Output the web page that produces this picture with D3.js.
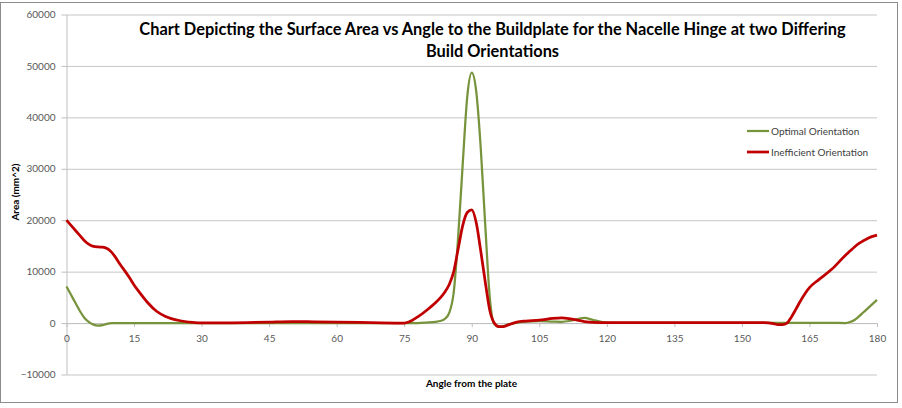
<!DOCTYPE html>
<html>
<head>
<meta charset="utf-8">
<script src="https://cdn.jsdelivr.net/npm/d3@7"></script>
<style>
  body { margin: 0; background: #fff; }
  svg { display: block; }
  .axis text { font-family: Lato, "Liberation Sans", sans-serif; font-size: 10px; fill: #595959; }
  .axis path, .axis line { stroke: #bfbfbf; }
  .grid line { stroke: #c6c6c6; }
  .grid path { display: none; }
</style>
</head>
<body>
<div id="chart"></div>
<script>
// angle from the plate (degrees)
var angles = [0,1,2,3,4,5,6,7,8,9,10,12,14,15,16,18,20,22,25,28,30,35,40,45,50,55,60,65,70,75,76,78,80,82,83,84,85,86,87,88,89,90,91,92,93,94,95,96,97,98,100,102,105,108,110,112,115,117,120,125,130,135,140,145,150,155,157,158,159,160,161,162,163,165,167,170,173,174,175,176,177,178,180];

// surface area (mm^2), optimal orientation
var optimal = [7100,5500,3900,2300,1000,200,-300,-500,-400,-150,0,0,0,0,0,0,0,0,0,0,0,0,0,0,0,0,0,0,0,0,0,0,100,250,400,800,2000,6000,17000,31000,44000,48700,45000,34000,19000,5000,-200,-700,-600,-300,100,300,400,300,250,450,1000,600,100,50,50,50,50,50,50,50,50,50,50,50,50,50,50,50,50,50,0,200,600,1300,2100,2900,4500];

// surface area (mm^2), inefficient orientation
var inefficient = [20000,19000,18000,17000,16000,15300,14900,14800,14750,14500,13800,11300,8800,7400,6200,4000,2300,1300,500,150,50,50,100,200,300,250,200,150,50,0,200,1200,2500,4000,4900,6000,7500,10000,14500,19000,21500,22000,19500,14000,8000,2500,0,-700,-700,-400,200,400,550,900,1000,800,300,150,100,100,100,100,100,100,100,100,-100,-300,-300,0,1200,2700,4300,6900,8400,10500,13200,14000,14800,15500,16000,16500,17100];

var seriesNames = ["Optimal Orientation", "Inefficient Orientation"];
var seriesColours = ["#77933c", "#c00000"];

var xTicks = [0,15,30,45,60,75,90,105,120,135,150,165,180];
var yTicks = [-10000,0,10000,20000,30000,40000,50000,60000];

var titleLines = ["Chart Depicting the Surface Area vs Angle to the Buildplate for the Nacelle Hinge at two Differing", "Build Orientations"];
var xTitle = "Angle from the plate";
var yTitle = "Area (mm^2)";

var width = 902, height = 408;
var plot = {left: 66.5, right: 877, top: 14.5, bottom: 374.5};

var svg = d3.select("#chart").append("svg")
    .attr("width", width)
    .attr("height", height);

// chart frame
svg.append("rect")
    .attr("x", 0.5).attr("y", 2.5)
    .attr("width", 897).attr("height", 400)
    .attr("fill", "#fff")
    .attr("stroke", "#8c8c8c");

var x = d3.scaleLinear().domain([0, 180]).range([plot.left, plot.right]);
var y = d3.scaleLinear().domain([-10000, 60000]).range([plot.bottom, plot.top]);

// horizontal gridlines
svg.append("g")
    .attr("class", "grid")
    .attr("transform", "translate(" + plot.left + ",0)")
    .call(d3.axisLeft(y).tickValues(yTicks).tickSize(-(plot.right - plot.left)).tickFormat(""));

// y axis
svg.append("g")
    .attr("class", "axis")
    .attr("transform", "translate(" + plot.left + ",0)")
    .call(d3.axisLeft(y).tickValues(yTicks).tickSize(5).tickPadding(6).tickSizeOuter(0).tickFormat(d3.format("d")));

// x axis sits on the zero line
svg.append("g")
    .attr("class", "axis")
    .attr("transform", "translate(0," + y(0) + ")")
    .call(d3.axisBottom(x).tickValues(xTicks).tickSize(4).tickPadding(8).tickSizeOuter(0));

// the two series, red drawn last so it sits on top
var line = d3.line()
    .x(function(d) { return x(d[0]); })
    .y(function(d) { return y(d[1]); })
    .curve(d3.curveMonotoneX);

[optimal, inefficient].forEach(function(values, i) {
  svg.append("path")
      .datum(angles.map(function(a, j) { return [a, values[j]]; }))
      .attr("fill", "none")
      .attr("stroke", seriesColours[i])
      .attr("stroke-width", i == 0 ? 2.25 : 2.75)
      .attr("stroke-linejoin", "round")
      .attr("d", line);
});

// title, fitted to the width it has in the original
var titleFont = 'Lato, "Liberation Sans", sans-serif';
var title1 = svg.append("text")
    .attr("x", 492.5).attr("y", 35)
    .attr("text-anchor", "middle")
    .style("font-family", titleFont)
    .style("font-weight", "bold")
    .style("font-size", "14px")
    .style("fill", "#000")
    .text(titleLines[0]);
var fitSize = 14 * 707 / title1.node().getComputedTextLength();
title1.style("font-size", fitSize + "px");
svg.append("text")
    .attr("x", 492.5).attr("y", 57)
    .attr("text-anchor", "middle")
    .style("font-family", titleFont)
    .style("font-weight", "bold")
    .style("font-size", fitSize + "px")
    .style("fill", "#000")
    .text(titleLines[1]);

// axis titles
svg.append("text")
    .attr("x", 471.5).attr("y", 387)
    .attr("text-anchor", "middle")
    .style("font-family", titleFont)
    .style("font-weight", "bold")
    .style("font-size", "10px")
    .style("fill", "#000")
    .text(xTitle);

svg.append("text")
    .attr("transform", "translate(19,192) rotate(-90)")
    .attr("text-anchor", "middle")
    .style("font-family", titleFont)
    .style("font-weight", "bold")
    .style("font-size", "10px")
    .style("fill", "#000")
    .text(yTitle);

// legend
var legend = svg.append("g").attr("transform", "translate(747,131)");
seriesNames.forEach(function(name, i) {
  var g = legend.append("g").attr("transform", "translate(0," + (i * 21) + ")");
  g.append("line")
      .attr("x1", 0).attr("x2", 22)
      .attr("stroke", seriesColours[i])
      .attr("stroke-width", i == 0 ? 2.25 : 2.75);
  g.append("text")
      .attr("x", 24).attr("y", 3.5)
      .style("font-family", titleFont)
      .style("font-size", "10px")
      .style("fill", "#404040")
      .text(name);
});
</script>
</body>
</html>
